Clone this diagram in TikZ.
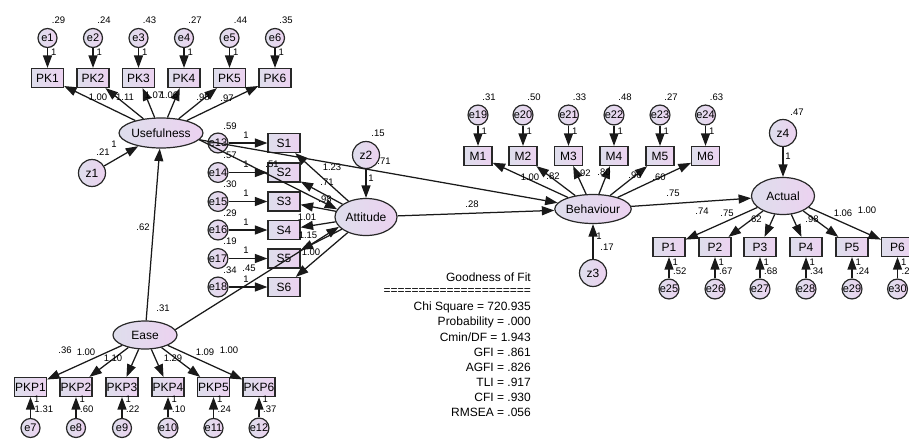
\documentclass[tikz,border=0pt]{standalone}
\usepackage{fontspec}
\setmainfont{Liberation Sans}
\usetikzlibrary{shapes.geometric,arrows.meta}
\definecolor{fillL}{RGB}{222,222,236}
\definecolor{fillR}{RGB}{236,210,240}
\definecolor{edgec}{RGB}{40,40,40}
\tikzset{
 basen/.style={draw=edgec, line width=1.2pt, left color=fillL, right color=fillR, inner sep=0pt, font=\fontsize{12}{12}\selectfont},
 obsbox/.style={basen, rectangle, minimum width=32pt, minimum height=19pt},
 mbox/.style={obsbox, minimum width=28pt},
 latent/.style={basen, ellipse, minimum width=64pt, minimum height=30pt},
 errc/.style={basen, circle, minimum size=19pt, font=\fontsize{11}{11}\selectfont},
 dist/.style={basen, circle, minimum size=27pt},
 sem/.style={line width=1.25pt, draw=black!90, -{Triangle[length=12.5pt,width=9pt]}},
 num/.style={font=\fontsize{9.5}{9.5}\selectfont, inner sep=0pt},
 gof/.style={font=\fontsize{12}{12}\selectfont, inner sep=0pt, anchor=east},
}
\begin{document}
\begin{tikzpicture}[x=1pt,y=-1pt]
\useasboundingbox (0,0) rectangle (909,439);

% ---------- Usefulness block ----------
\node[latent] (U) at (161,133) {Usefulness};
\foreach \i/\x/\va in {1/47.5/.29,2/93/.24,3/138.5/.43,4/184/.27,5/229.5/.44,6/275/.35}{
  \node[obsbox] (PK\i) at (\x,78) {PK\i};
  \node[errc] (e\i) at (\x,38) {e\i};
  \node[num] (ve\i) at (\x+11,20) {\va};
  \node[num, anchor=west] (oe\i) at (\x+3.5,52) {1};
  \draw[sem] (e\i) -- (PK\i);
  \draw[sem] (U) -- (PK\i);
}
\node[num] (lpk1) at (98,97) {1.00};
\node[num] (lpk2) at (125,97) {1.11};
\node[num] (lpk3) at (154,95) {1.07};
\node[num] (lpk4) at (169,95) {1.06};
\node[num] (lpk5) at (203,97) {.98};
\node[num] (lpk6) at (227,98) {.97};

\node[dist] (z1) at (92,173) {z1};
\draw[sem] (z1) -- (U);
\node[num] (vz1) at (103,152) {.21};
\node[num] (oz1) at (114,144) {1};

% ---------- Ease block ----------
\node[latent, minimum height=28pt] (E) at (145,335) {Ease};
\node[num] (vE) at (163,308) {.31};
\draw[sem] (E) -- (U);
\node[num] (lEU) at (143,227) {.62};
\foreach \i/\x/\va/\j in {1/30.5/1.31/7,2/76/.60/8,3/122/.22/9,4/168/.10/10,5/213.5/.24/11,6/259/.37/12}{
  \node[obsbox] (PKP\i) at (\x,387) {PKP\i};
  \node[errc] (e\j) at (\x,428) {e\j};
  \draw[sem] (e\j) -- (PKP\i);
  \draw[sem] (E) -- (PKP\i);
  \node[num, anchor=west] (oe\j) at (\x+3.5,399) {1};
  \node[num, anchor=west] (ve\j) at (\x+4,409) {\va};
}
\node[num] (lpkp0) at (65,350) {.36};
\node[num] (lpkp1) at (86,352) {1.00};
\node[num] (lpkp2) at (113,358) {1.10};
\node[num] (lpkp4) at (173,358) {1.29};
\node[num] (lpkp5) at (205,352) {1.09};
\node[num] (lpkp6) at (229,350) {1.00};

% ---------- Attitude block ----------
\node[latent, minimum width=62pt, minimum height=37pt] (A) at (366,217) {Attitude};
\node[dist] (z2) at (366,155) {z2};
\draw[sem] (z2) -- (A);
\node[num] (vz2) at (378,133) {.15};
\node[num] (oz2) at (371,178) {1};
\foreach \i/\y/\va/\j in {1/143/.59/13,2/172.5/.57/14,3/201.5/.30/15,4/230/.29/16,5/258.5/.19/17,6/287/.34/18}{
  \node[obsbox] (S\i) at (284,\y) {S\i};
  \node[errc] (e\j) at (218,\y) {e\j};
  \draw[sem] (e\j) -- (S\i);
  \draw[sem] (A) -- (S\i);
  \node[num] (ve\j) at (230,\y-17) {\va};
  \node[num] (oe\j) at (246,\y-8) {1};
}
\node[num] (ls1) at (332,167) {1.23};
\node[num] (ls2) at (327,182) {.71};
\node[num] (ls3) at (325,199) {.98};
\node[num] (ls4) at (307,217) {1.01};
\node[num] (ls5) at (308,235) {1.15};
\node[num] (ls6) at (311,252) {1.00};

\draw[sem] (U.-10) -- (A.165);
\node[num] (lUA) at (272,164) {.51};
\draw[sem] (E.10) -- (A.200);
\node[num] (lEA) at (249,268) {.45};

% ---------- Behaviour block ----------
\node[latent, minimum width=63pt, minimum height=29pt] (B) at (593,209) {Behaviour};
\draw[sem] (U) -- (B);
\node[num] (lUB) at (384,161) {.71};
\draw[sem] (A) -- (B);
\node[num] (lAB) at (472,204) {.28};
\foreach \i/\x/\va/\j in {1/478/.31/19,2/523/.50/20,3/568.5/.33/21,4/614/.48/22,5/660/.27/23,6/705.5/.63/24}{
  \node[mbox] (M\i) at (\x,156) {M\i};
  \node[errc] (e\j) at (\x,115) {e\j};
  \draw[sem] (e\j) -- (M\i);
  \draw[sem] (B) -- (M\i);
  \node[num] (ve\j) at (\x+11,97) {\va};
  \node[num, anchor=west] (oe\j) at (\x+3.5,131) {1};
}
\node[num] (lm1) at (530,177) {1.00};
\node[num] (lm2) at (553,176) {.82};
\node[num] (lm3) at (584,173) {.92};
\node[num] (lm4) at (604,172) {.80};
\node[num] (lm5) at (635,175) {.96};
\node[num] (lm6) at (659,177) {.60};

\node[dist] (z3) at (593,273) {z3};
\draw[sem] (z3) -- (B);
\node[num] (oz3) at (599,236) {1};
\node[num] (vz3) at (607,247) {.17};

% ---------- Actual block ----------
\node[latent, minimum width=63pt, minimum height=37pt] (Ac) at (783,196) {Actual};
\draw[sem] (B) -- (Ac);
\node[num] (lBAc) at (673,193) {.75};
\node[dist] (z4) at (783,133) {z4};
\draw[sem] (z4) -- (Ac);
\node[num] (vz4) at (797,112) {.47};
\node[num] (oz4) at (788,156) {1};
\foreach \i/\x/\va/\j in {1/669/.52/25,2/715/.67/26,3/760/.68/27,4/806/.34/28,5/852/.24/29,6/897.5/.20/30}{
  \node[obsbox] (P\i) at (\x,247) {P\i};
  \node[errc] (e\j) at (\x,289) {e\j};
  \draw[sem] (e\j) -- (P\i);
  \draw[sem] (Ac) -- (P\i);
  \node[num, anchor=west] (oe\j) at (\x+3.5,262) {1};
  \node[num, anchor=west] (ve\j) at (\x+4,271) {\va};
}
\node[num] (lp1) at (702,211) {.74};
\node[num] (lp2) at (727,213) {.75};
\node[num] (lp3) at (755,219) {.62};
\node[num] (lp4) at (812,219) {.98};
\node[num] (lp5) at (843,213) {1.06};
\node[num] (lp6) at (867,210) {1.00};

% ---------- Goodness of fit ----------
\node[gof] (g0) at (531,277) {Goodness of Fit};
\node[gof] (g1) at (531,292) {=====================};
\node[gof] (g2) at (531,307) {Chi Square = 720.935};
\node[gof] (g3) at (531,322) {Probability = .000};
\node[gof] (g4) at (531,337) {Cmin/DF = 1.943};
\node[gof] (g5) at (531,352) {GFI = .861};
\node[gof] (g6) at (531,367) {AGFI = .826};
\node[gof] (g7) at (531,382) {TLI = .917};
\node[gof] (g8) at (531,397) {CFI = .930};
\node[gof] (g9) at (531,412) {RMSEA = .056};
\end{tikzpicture}
\end{document}
